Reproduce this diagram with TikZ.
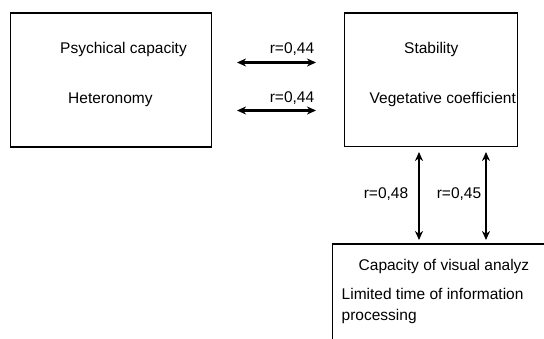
\documentclass[tikz,border=0pt]{standalone}
\usepackage{fontspec}
\setmainfont{Liberation Sans}
\usetikzlibrary{arrows.meta}
\begin{document}
\begin{tikzpicture}[x=1pt,y=-1pt,font=\fontsize{15.5}{18}\selectfont]
			\clip (0,0) rectangle (544,339);
			\begin{scope}[every node/.style={draw, rectangle, line width=1.3pt, anchor=north west, inner sep=0pt}]
				\node (left)[minimum width=201pt, minimum height=134pt] at (10,12.5) {};
				\node (right)[minimum width=173pt, minimum height=133.5pt] at (344,12.5) {};
				\node (bottom)[minimum width=240pt, minimum height=120pt] at (331.7,243.3) {};
			\end{scope}
			\begin{scope}[every node/.style={anchor=base west, inner sep=0pt}]
				\node (psy) at (60,53.3) {Psychical capacity};
				\node (het) at (68,104) {Heteronomy};
				\node (stab) at (404,53.3) {Stability};
				\node (veg) at (369.5,104) {Vegetative coefficient};
				\node (vis) at (358.5,270.7) {Capacity of visual analyz};
				\node (lim) at (341.5,300) {Limited time of information};
				\node (proc) at (341.5,320.5) {processing};
			\end{scope}
			\coordinate (h1a) at (237,62.5);
			\coordinate (h1b) at (316,62.5);
			\coordinate (h2a) at (237,110.5);
			\coordinate (h2b) at (316,110.5);
			\coordinate (v1a) at (419,152);
			\coordinate (v1b) at (419,240);
			\coordinate (v2a) at (486,152);
			\coordinate (v2b) at (486,240);
			\begin{scope}[every edge/.style={draw, line width=2.2pt, {Stealth[length=9pt,width=8pt]}-{Stealth[length=9pt,width=8pt]}}]
				\path (h1a) edge (h1b);
				\path (h2a) edge (h2b);
				\path (v1a) edge (v1b);
				\path (v2a) edge (v2b);
			\end{scope}
			\begin{scope}[every node/.style={anchor=base, inner sep=0pt}]
				\node (r1) at (292,54) {r=0,44};
				\node (r2) at (292,103) {r=0,44};
				\node (r3) at (386,199) {r=0,48};
				\node (r4) at (459,199) {r=0,45};
			\end{scope}
		\end{tikzpicture}
\end{document}
